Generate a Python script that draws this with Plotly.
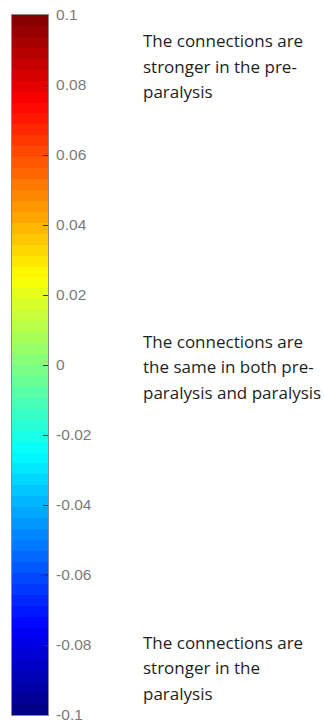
import plotly.graph_objects as go

# Colour scale limits and tick labels of the bar
z_min, z_max = -0.1, 0.1
tick_values = [0.1, 0.08, 0.06, 0.04, 0.02, 0, -0.02, -0.04, -0.06, -0.08, -0.1]
tick_labels = ["0.1", "0.08", "0.06", "0.04", "0.02", "0", "-0.02", "-0.04", "-0.06", "-0.08", "-0.1"]

# Explanatory notes placed beside the bar, top to bottom
note_lines = [
    ["The connections are", "stronger in the pre-", "paralysis"],
    ["The connections are", "the same in both pre-", "paralysis and paralysis"],
    ["The connections are", "stronger in the", "paralysis"],
]

N_COLORS = 64


def jet(n):
    """Discrete jet colormap with n entries."""
    out = []
    for i in range(n):
        x = (i + 0.5) / n
        r = min(max(1.5 - abs(4 * x - 3), 0), 1)
        g = min(max(1.5 - abs(4 * x - 2), 0), 1)
        b = min(max(1.5 - abs(4 * x - 1), 0), 1)
        out.append(f"rgb({round(r*255)},{round(g*255)},{round(b*255)})")
    return out


colors = jet(N_COLORS)
scale = [[i / (N_COLORS - 1), c] for i, c in enumerate(colors)]

step = (z_max - z_min) / N_COLORS
band_centers = [z_min + (i + 0.5) * step for i in range(N_COLORS)]
band_index = [[i] for i in range(N_COLORS)]

W, H = 324, 722
bar_left, bar_right = 12, 48
bar_top, bar_bottom = 15, 715

fig = go.Figure(
    go.Heatmap(
        x=[0],
        y=band_centers,
        z=band_index,
        zmin=0,
        zmax=N_COLORS - 1,
        colorscale=scale,
        showscale=False,
        hoverinfo="skip",
    )
)

fig.update_xaxes(
    domain=[bar_left / W, bar_right / W],
    showticklabels=False,
    ticks="",
    showgrid=False,
    zeroline=False,
    showline=True,
    mirror=True,
    linecolor="#8a8a8a",
    linewidth=1,
    automargin=False,
    fixedrange=True,
)
fig.update_yaxes(
    domain=[1 - bar_bottom / H, 1 - bar_top / H],
    range=[z_min, z_max],
    side="right",
    tickvals=tick_values,
    ticktext=tick_labels,
    ticks="inside",
    ticklen=5,
    tickwidth=1,
    tickcolor="#333333",
    ticklabelstandoff=4,
    ticklabeloverflow="allow",
    tickfont=dict(family="Liberation Sans, Arial, sans-serif", size=15.5, color="#7a7a7a"),
    showgrid=False,
    zeroline=False,
    showline=True,
    mirror=True,
    linecolor="#8a8a8a",
    linewidth=1,
    automargin=False,
    fixedrange=True,
)

# Pixel row of the middle line of each note block, and spacing between lines
block_centres_px = [66, 366.5, 667.5]
line_gap = 25.5
annotations = []
for lines, cy in zip(note_lines, block_centres_px):
    for k, text in enumerate(lines):
        ypx = cy + (k - 1) * line_gap
        annotations.append(
            dict(
                x=141 / W,
                y=1 - ypx / H,
                xref="paper",
                yref="paper",
                xanchor="left",
                yanchor="middle",
                text=text,
                showarrow=False,
                font=dict(family="Open Sans, sans-serif", size=17, color="#1e1e1e"),
            )
        )

fig.update_layout(
    width=W,
    height=H,
    margin=dict(l=0, r=0, t=0, b=0, autoexpand=False),
    paper_bgcolor="white",
    plot_bgcolor="white",
    annotations=annotations,
    showlegend=False,
)

fig.write_html("out.html")
